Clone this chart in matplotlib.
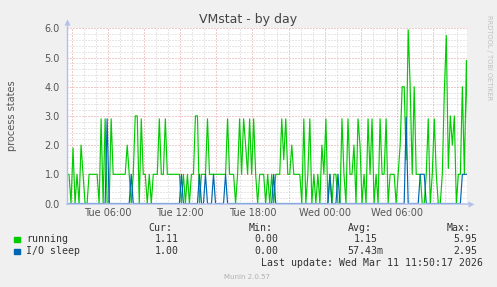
import numpy as np
import matplotlib
matplotlib.use("Agg")
import matplotlib.pyplot as plt
from matplotlib.patches import Rectangle

# ---------------- data ----------------
title = "VMstat - by day"
y_label = "process states"
start_hour = 2.6          # hours since Tue 00:00 at the left edge of the plot
step_hours = 1.0 / 6.0    # one sample every 10 minutes

running = [
    1, 1, 0, 1.9, 0, 1, 0, 2.0, 1, 0,
    0, 1, 1, 1, 1, 1, 0, 2.9, 0, 2.9,
    0, 0, 2.9, 1, 1, 1, 1, 1, 1, 1,
    2.0, 1, 0, 1, 3.0, 3.0, 0, 2.9, 1, 1,
    0, 1, 0, 1, 1, 1, 2.9, 1, 1, 2.9,
    1, 1, 1, 1, 1, 1, 1, 0, 1, 0,
    1, 0, 1, 1, 3.0, 3.0, 0, 1, 1, 1,
    2.9, 1, 1, 1, 1, 1, 1, 1, 1, 1,
    2.9, 1, 1, 1, 0, 1, 2.9, 1, 2.9, 2.0,
    1, 2.9, 1, 2.9, 1, 0, 1, 1, 1, 0,
    1, 0, 1, 0, 1, 1, 1, 2.9, 1.5, 2.9,
    1, 1, 2.0, 1, 1, 1, 1, 0, 2.9, 0,
    1, 2.9, 0, 1, 0, 1, 0, 2.0, 1, 2.9,
    0, 1, 0, 1, 1, 0, 0, 2.9, 1, 0,
    2.9, 1, 1, 2.0, 0, 2.9, 2.0, 0, 1, 0,
    2.9, 1, 2.9, 0, 1, 0, 2.9, 1, 1, 2.9,
    0, 1, 1, 1, 0, 1, 2.0, 4.0, 4.0, 1.5,
    5.95, 4.0, 1, 4.0, 1, 1, 1, 0, 0, 1,
    2.9, 0, 1, 2.9, 1, 0, 0, 1, 3.8, 5.75,
    1.2, 3.0, 2.0, 3.0, 0, 1, 1, 4.0, 1, 4.9,
    1.11,
]

io_sleep = [
    0, 0, 0, 0, 0, 0, 0, 0, 0, 0,
    0, 0, 0, 0, 0, 0, 0, 0, 0, 0,
    2.9, 0, 0, 0, 0, 0, 0, 0, 0, 0,
    0, 0, 1, 0, 0, 0, 0, 0, 0, 0,
    0, 0, 0, 0, 0, 0, 0, 0, 0, 0,
    0, 0, 0, 0, 0, 0, 0, 1, 0, 0,
    0, 0, 0, 0, 0, 0, 1, 0, 0, 1,
    0, 0, 0, 1, 0, 0, 0, 0, 0, 1,
    0, 0, 0, 0, 0, 0, 0, 0, 0, 0,
    0, 0, 0, 0, 0, 0, 0, 0, 0, 0,
    0, 0, 0, 1, 0, 0, 0, 0, 0, 0,
    0, 0, 0, 0, 0, 0, 0, 0, 0, 0,
    0, 0, 0, 0, 0, 0, 0, 0, 0, 0,
    0, 1, 0, 0, 0, 1, 0, 0, 0, 0,
    0, 0, 0, 0, 0, 0, 0, 0, 0, 0,
    0, 0, 0, 0, 0, 0, 0, 0, 0, 0,
    0, 0, 0, 0, 0, 0, 0, 0, 0, 2.95,
    0, 0, 0, 0, 0, 0, 1, 1, 1, 0,
    0, 0, 0, 0, 0, 0, 0, 0, 0, 0,
    0, 0, 0, 0, 0, 0, 0, 1, 1, 1,
    1,
]

tick_hours = [6, 12, 18, 24, 30]
tick_labels = ["Tue 06:00", "Tue 12:00", "Tue 18:00", "Wed 00:00", "Wed 06:00"]
y_ticks = [0, 1, 2, 3, 4, 5, 6]

series_names = ["running", "I/O sleep"]
series_colors = ["#00CC00", "#0066B3"]
cur_vals = ["1.11", "1.00"]
min_vals = ["0.00", "0.00"]
avg_vals = ["1.15", "57.43m"]
max_vals = ["5.95", "2.95"]
last_update = "Last update: Wed Mar 11 11:50:17 2026"
footer = "Munin 2.0.57"
watermark = "RRDTOOL / TOBI OETIKER"

# ---------------- layout ----------------
W, H = 497, 287
L, R, T, B = 67, 467, 28.3, 203.5
px_per_hour = 72.25 / 6.0

fig = plt.figure(figsize=(W / 100, H / 100), dpi=100, facecolor="#F0F0F0")
ax = fig.add_axes([L / W, 1 - B / H, (R - L) / W, (B - T) / H])
ax.set_facecolor("white")

xmin = start_hour
xmax = start_hour + (R - L) / px_per_hour
ax.set_xlim(xmin, xmax)
ax.set_ylim(0, 6)

# grid
minor_c = "#CFCFCF"
major_c = "#E39A9A"
dot = (0, (1, 2))
for h in np.arange(np.ceil(xmin), xmax, 1.0):
    if h % 3 == 0:
        continue
    ax.axvline(h, color=minor_c, lw=0.72, ls=dot, zorder=1)
for yv in np.arange(0.2, 6.01, 0.2):
    if abs(yv - round(yv)) < 1e-6:
        continue
    ax.axhline(yv, color=minor_c, lw=0.72, ls=dot, zorder=1)
for h in np.arange(3 * np.ceil(xmin / 3), xmax, 3.0):
    ax.axvline(h, color=major_c, lw=0.72, ls=dot, zorder=2)
for yv in y_ticks[1:]:
    ax.axhline(yv, color=major_c, lw=0.72, ls=dot, zorder=2)

t = start_hour + np.arange(len(running)) * step_hours
ax.plot(t, running, color=series_colors[0], lw=0.85, zorder=4)
t2 = start_hour + np.arange(len(io_sleep)) * step_hours
ax.plot(t2, io_sleep, color=series_colors[1], lw=0.85, zorder=5)

for s in ax.spines.values():
    s.set_visible(False)

axis_c = "#B4C0EC"
ax.plot([0, 0], [0, 1 + 6 / (B - T)], transform=ax.transAxes, color=axis_c,
        lw=1.0, clip_on=False, zorder=6)
ax.plot([0, 1 + 4 / (R - L)], [0, 0], transform=ax.transAxes, color=axis_c,
        lw=1.1, clip_on=False, zorder=6)
ax.plot([0], [1 + 6 / (B - T)], transform=ax.transAxes, marker="^", ms=4.5,
        color=axis_c, clip_on=False, zorder=6, mec="none")
ax.plot([1 + 4 / (R - L)], [0], transform=ax.transAxes, marker=">", ms=4.5,
        color=axis_c, clip_on=False, zorder=6, mec="none")

ax.set_yticks(y_ticks)
ax.set_yticklabels([f"{v:.1f}" for v in y_ticks])
ax.set_xticks(tick_hours)
ax.set_xticklabels(tick_labels)
ax.tick_params(axis="both", length=0, labelsize=7, colors="#555555")
ax.tick_params(axis="y", pad=5)
ax.tick_params(axis="x", pad=3.5)

def ftext(x, y, s, **kw):
    fig.text(x / W, 1 - y / H, s, **kw)

ftext(248, 19, title, ha="center", va="center", fontsize=9, color="#444444")
ftext(12, (T + B) / 2, y_label, ha="center", va="center", rotation=90,
      fontsize=7, color="#555555")
ftext(488.5, 58, watermark, ha="center", va="center", rotation=270,
      fontsize=4.8, color="#C0C0C0")

mono = dict(family="DejaVu Sans Mono", fontsize=7.1, color="#333333", va="center")
ftext(172.5, 228, "Cur:", ha="right", **mono)
ftext(272.5, 228, "Min:", ha="right", **mono)
ftext(371.5, 228, "Avg:", ha="right", **mono)
ftext(470.5, 228, "Max:", ha="right", **mono)
row_y = [239.5, 251]
char_w = 5.97
for i, name in enumerate(series_names):
    y = row_y[i]
    fig.patches.append(Rectangle((14 / W, 1 - (y + 2.5) / H), 5.5 / W, 5 / H,
                                 transform=fig.transFigure, color=series_colors[i]))
    ftext(26.5, y, name, ha="left", **mono)
    ftext(178.5, y, cur_vals[i], ha="right", **mono)
    ftext(278.2, y, min_vals[i], ha="right", **mono)
    av = avg_vals[i]
    ftext(377.8 + (char_w if av[-1].isalpha() else 0), y, av, ha="right", **mono)
    ftext(477, y, max_vals[i], ha="right", **mono)
ftext(483, 263.5, last_update, ha="right", **mono)
ftext(247, 277, footer, ha="center", va="center", fontsize=5, color="#B0B0B0")

fig.savefig("out.png", dpi=100, facecolor=fig.get_facecolor())
